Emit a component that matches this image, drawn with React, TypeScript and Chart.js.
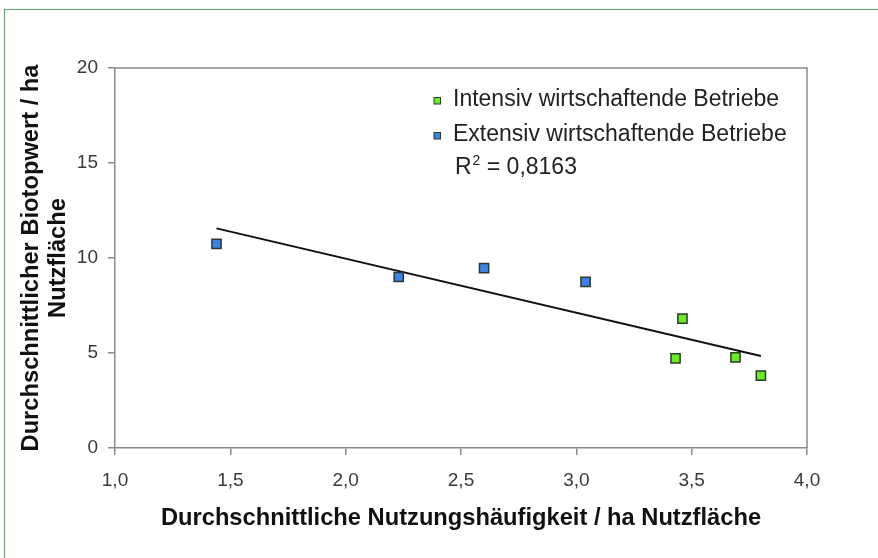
import React, { useEffect, useRef } from "react";
import { Chart, registerables } from "chart.js";

Chart.register(...registerables);

const intensivLabel = "Intensiv wirtschaftende Betriebe";
const extensivLabel = "Extensiv wirtschaftende Betriebe";
const intensivX = [3.43, 3.46, 3.69, 3.8];
const intensivY = [4.72, 6.81, 4.77, 3.81];
const extensivX = [1.44, 2.23, 2.6, 3.04];
const extensivY = [10.74, 9.0, 9.47, 8.74];
const trendX = [1.44, 3.8];
const trendY = [11.56, 4.84];
const r2Value = "0,8163";
const xTitle = "Durchschnittliche Nutzungshäufigkeit / ha Nutzfläche";
const yTitle = ["Durchschnittlicher Biotopwert / ha", "Nutzfläche"];

const GREEN = "#66ee22";
const BLUE = "#3b82ea";
const MARKER_BORDER = "#2a3a2a";
const AXIS = "#8a8a8a";

const toPoints = (xs: number[], ys: number[]) => xs.map((x, i) => ({ x, y: ys[i] }));

const framePlugin = {
  id: "frameAndLegend",
  beforeDraw(chart: any) {
    const ctx = chart.ctx;
    ctx.save();
    ctx.fillStyle = "#ffffff";
    ctx.fillRect(0, 0, chart.width, chart.height);
    ctx.strokeStyle = "#6f9f7c";
    ctx.lineWidth = 1.2;
    ctx.strokeRect(4.5, 9.5, chart.width + 20, chart.height + 20);
    ctx.restore();
  },
  afterDraw(chart: any) {
    const ctx = chart.ctx;
    const a = chart.chartArea;
    ctx.save();
    ctx.strokeStyle = AXIS;
    ctx.lineWidth = 1.5;
    ctx.beginPath();
    ctx.moveTo(a.left, a.top);
    ctx.lineTo(a.right, a.top);
    ctx.lineTo(a.right, a.bottom);
    ctx.stroke();

    // legend
    const lx = a.right - 370;
    const ly = a.top + 32;
    const gap = 35;
    const items = chart.data.datasets.slice(0, 2);
    ctx.font = "23px 'Liberation Sans', Arial, sans-serif";
    ctx.textBaseline = "middle";
    ctx.textAlign = "left";
    items.forEach((ds: any, i: number) => {
      const y = ly + i * gap;
      ctx.fillStyle = ds.backgroundColor;
      ctx.fillRect(lx - 3, y - 2.5, 6.5, 6.5);
      ctx.strokeStyle = MARKER_BORDER;
      ctx.lineWidth = 1;
      ctx.strokeRect(lx - 3, y - 2.5, 6.5, 6.5);
      ctx.fillStyle = "#222222";
      ctx.fillText(ds.label, lx + 16, y);
    });
    const ry = ly + 2 * gap - 2;
    const rx = lx + 18;
    ctx.fillStyle = "#222222";
    ctx.fillText("R", rx, ry);
    const rw = ctx.measureText("R").width;
    ctx.font = "14px 'Liberation Sans', Arial, sans-serif";
    ctx.fillText("2", rx + rw + 1, ry - 7);
    const sw = ctx.measureText("2").width;
    ctx.font = "23px 'Liberation Sans', Arial, sans-serif";
    ctx.fillText(" = " + r2Value, rx + rw + sw + 1, ry);
    ctx.restore();
  },
};

export default function App() {
  const ref = useRef<HTMLCanvasElement>(null);
  useEffect(() => {
    if (!ref.current) return;
    const tickFont = { family: "'Liberation Sans', Arial, sans-serif", size: 19 };
    const titleFont = { family: "'Liberation Sans', Arial, sans-serif", size: 23.7, weight: "bold" as const, lineHeight: 1.14 };
    const chart = new Chart(ref.current, {
      type: "scatter",
      data: {
        datasets: [
          {
            label: intensivLabel,
            data: toPoints(intensivX, intensivY),
            backgroundColor: GREEN,
            borderColor: MARKER_BORDER,
            borderWidth: 1.5,
            pointStyle: "rect",
            pointRadius: 6.5,
          },
          {
            label: extensivLabel,
            data: toPoints(extensivX, extensivY),
            backgroundColor: BLUE,
            borderColor: MARKER_BORDER,
            borderWidth: 1.5,
            pointStyle: "rect",
            pointRadius: 6.5,
          },
          {
            label: "Trend",
            data: toPoints(trendX, trendY),
            showLine: true,
            borderColor: "#111111",
            borderWidth: 2,
            pointRadius: 0,
            fill: false,
          },
        ],
      },
      options: {
        animation: false,
        responsive: true,
        maintainAspectRatio: false,
        layout: { padding: { top: 68, right: 71, left: 0, bottom: 0 } },
        plugins: { legend: { display: false }, tooltip: { enabled: false } },
        scales: {
          x: {
            type: "linear",
            min: 1,
            max: 4,
            afterFit: (s: any) => {
              s.height = 110;
            },
            ticks: {
              stepSize: 0.5,
              padding: 14,
              color: "#3a3a3a",
              font: tickFont,
              maxRotation: 0,
              callback: (v: any) => Number(v).toFixed(1).replace(".", ","),
            },
            grid: { drawOnChartArea: false, drawTicks: true, tickLength: 7, color: AXIS, lineWidth: 1.5 },
            border: { display: true, color: AXIS, width: 1.5 },
            title: {
              display: true,
              text: xTitle,
              color: "#111111",
              font: titleFont,
              padding: { top: 0, bottom: 26 },
            },
          },
          y: {
            type: "linear",
            min: 0,
            max: 20,
            afterFit: (s: any) => {
              s.width = 115;
            },
            ticks: { stepSize: 5, padding: 10, color: "#3a3a3a", font: tickFont },
            grid: { drawOnChartArea: false, drawTicks: true, tickLength: 7, color: AXIS, lineWidth: 1.5 },
            border: { display: true, color: AXIS, width: 1.5 },
            title: {
              display: true,
              text: yTitle,
              color: "#111111",
              font: titleFont,
              padding: { top: 18, bottom: 0 },
            },
          },
        },
      },
      plugins: [framePlugin],
    });
    return () => chart.destroy();
  }, []);
  return (
    <div style={{ position: "absolute", left: 0, top: 0, width: 878, height: 558 }}>
      <canvas ref={ref} style={{ display: "block" }} />
    </div>
  );
}
